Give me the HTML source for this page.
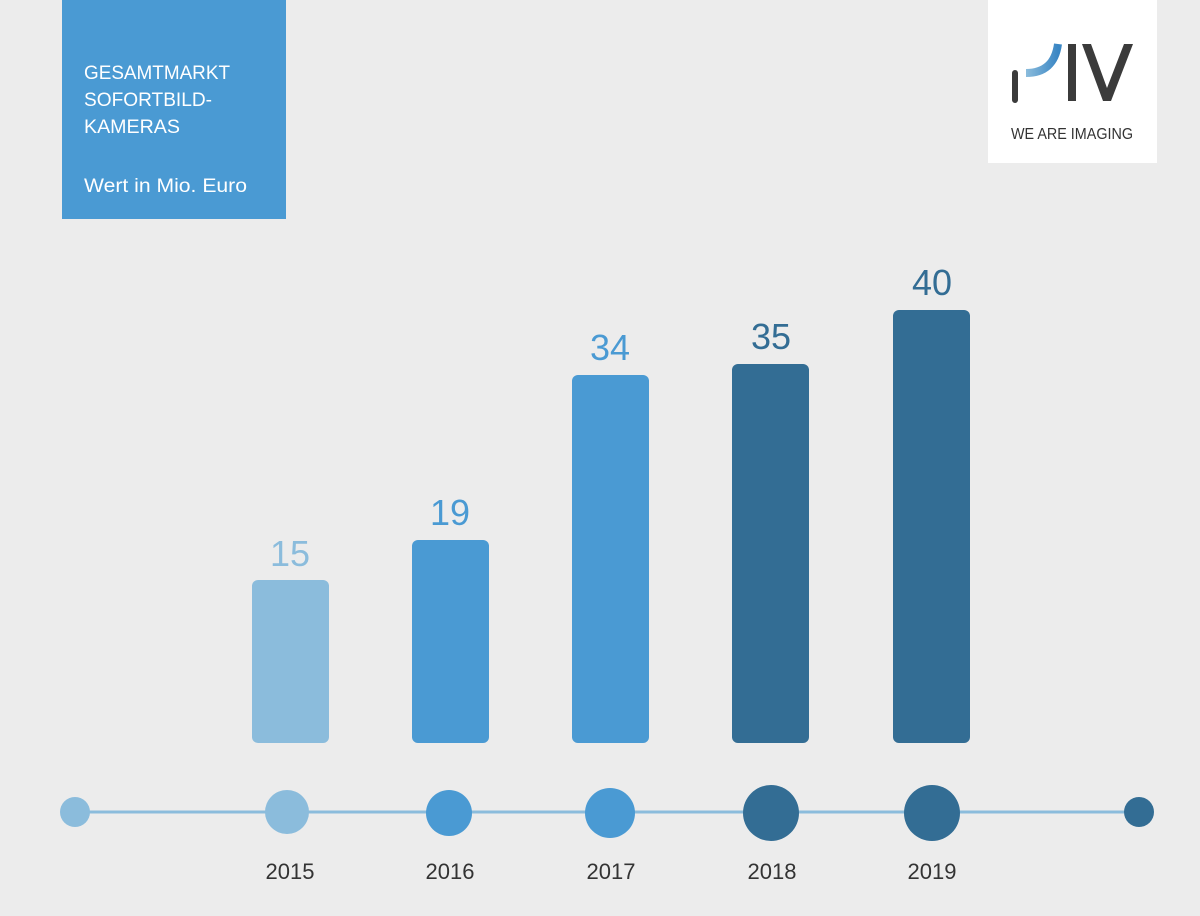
<!DOCTYPE html>
<html><head><meta charset="utf-8"><style>
body{margin:0;width:1200px;height:916px;background:#ececec;overflow:hidden;font-family:"Liberation Sans",sans-serif;}
</style></head><body>
<svg width="1200" height="916" xmlns="http://www.w3.org/2000/svg" style="position:absolute;left:0;top:0">
<rect width="1200" height="916" fill="#ececec"/>
<rect x="62" y="0" width="224" height="219" fill="#4a9ad3"/>
<g fill="#fff" font-size="19" font-family="Liberation Sans, sans-serif">
<text x="84" y="79" textLength="146" lengthAdjust="spacingAndGlyphs">GESAMTMARKT</text>
<text x="84" y="106" textLength="128" lengthAdjust="spacingAndGlyphs">SOFORTBILD-</text>
<text x="84" y="133" textLength="96" lengthAdjust="spacingAndGlyphs">KAMERAS</text>
<text x="84" y="192" textLength="163" lengthAdjust="spacingAndGlyphs">Wert in Mio. Euro</text>
</g>
<rect x="988" y="0" width="169" height="163" fill="#fff"/>
<defs><linearGradient id="g" x1="0" x2="1"><stop offset="0" stop-color="#8bbcdc"/><stop offset="1" stop-color="#3a86c4"/></linearGradient></defs>
<path d="M1015 100 V73" stroke="#3b3b3b" stroke-width="6" stroke-linecap="round" fill="none"/>
<path d="M1026 73 Q1054 73 1058 44" stroke="url(#g)" stroke-width="8" fill="none"/>
<path d="M1072 44 V101" stroke="#3b3b3b" stroke-width="8" fill="none"/>
<polygon points="1082,44 1091,44 1107,88 1124,44 1133,44 1111,101 1103,101" fill="#3b3b3b"/>
<text x="1011" y="139" font-size="16" fill="#333" textLength="122" lengthAdjust="spacingAndGlyphs">WE ARE IMAGING</text>
<g>
<rect x="252" y="580" width="77" height="163" rx="6" fill="#8bbcdc"/>
<rect x="412" y="540" width="77" height="203" rx="6" fill="#4a9ad3"/>
<rect x="572" y="375" width="77" height="368" rx="6" fill="#4a9ad3"/>
<rect x="732" y="364" width="77" height="379" rx="6" fill="#336d94"/>
<rect x="893" y="310" width="77" height="433" rx="6" fill="#336d94"/>
</g>
<g font-size="36" text-anchor="middle">
<text x="290" y="566" fill="#8bbcdc">15</text>
<text x="450" y="525" fill="#4a9ad3">19</text>
<text x="610" y="360" fill="#4a9ad3">34</text>
<text x="771" y="349" fill="#336d94">35</text>
<text x="932" y="295" fill="#336d94">40</text>
</g>
<line x1="75" y1="812" x2="1139" y2="812" stroke="#8bbcdc" stroke-width="3"/>
<circle cx="75" cy="812" r="15" fill="#8bbcdc"/>
<circle cx="287" cy="812" r="22" fill="#8bbcdc"/>
<circle cx="449" cy="813" r="23" fill="#4a9ad3"/>
<circle cx="610" cy="813" r="25" fill="#4a9ad3"/>
<circle cx="771" cy="813" r="28" fill="#336d94"/>
<circle cx="932" cy="813" r="28" fill="#336d94"/>
<circle cx="1139" cy="812" r="15" fill="#336d94"/>
<g font-size="22" fill="#333" text-anchor="middle">
<text x="290" y="879">2015</text>
<text x="450" y="879">2016</text>
<text x="611" y="879">2017</text>
<text x="772" y="879">2018</text>
<text x="932" y="879">2019</text>
</g>
</svg>
</body></html>
